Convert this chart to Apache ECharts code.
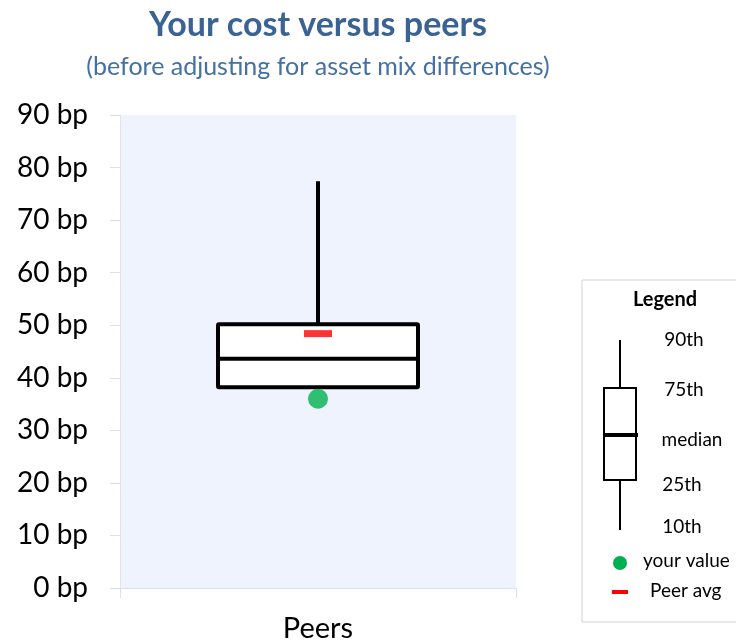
<!DOCTYPE html>
<html>
<head>
<meta charset="utf-8">
<script src="https://cdn.jsdelivr.net/npm/echarts@6/dist/echarts.min.js"></script>
<style>
  html, body { margin: 0; padding: 0; background: #fff; }
  #chart { width: 736px; height: 643px; }
</style>
</head>
<body>
<div id="chart"></div>
<script>
// data
const categories = ["Peers"];
// [10th, 25th, median, 75th, 90th]
const boxValues = [[38.2, 38.2, 43.6, 50.2, 77.4]];
const yourValue = [36.0];
const peerAvg = [48.4];
const yTicks = [0, 10, 20, 30, 40, 50, 60, 70, 80, 90];

const font = "Lato";
const blue = "#3a6393";
const lf = "19px " + font;

const chart = echarts.init(document.getElementById("chart"));

// legend box on the right (drawing only, not data)
const legendGraphics = [
  { type: "rect", shape: { x: 582, y: 280, width: 160, height: 342 },
    style: { fill: "#fff", stroke: "#d3d3d3", lineWidth: 1 } },
  { type: "text", x: 665, y: 300, style: { text: "Legend", font: "bold 20px " + font, fill: "#000", textAlign: "center", textVerticalAlign: "middle" } },
  { type: "line", shape: { x1: 620, y1: 340, x2: 620, y2: 388 }, style: { stroke: "#000", lineWidth: 2 } },
  { type: "line", shape: { x1: 620, y1: 480, x2: 620, y2: 530 }, style: { stroke: "#000", lineWidth: 2 } },
  { type: "rect", shape: { x: 604, y: 388, width: 32, height: 92 }, style: { fill: "#fff", stroke: "#000", lineWidth: 2 } },
  { type: "line", shape: { x1: 603, y1: 435, x2: 638, y2: 435 }, style: { stroke: "#000", lineWidth: 4 } },
  { type: "text", x: 684, y: 340, style: { text: "90th", font: lf, fill: "#000", textAlign: "center", textVerticalAlign: "middle" } },
  { type: "text", x: 684, y: 390, style: { text: "75th", font: lf, fill: "#000", textAlign: "center", textVerticalAlign: "middle" } },
  { type: "text", x: 692, y: 440, style: { text: "median", font: lf, fill: "#000", textAlign: "center", textVerticalAlign: "middle" } },
  { type: "text", x: 682, y: 485, style: { text: "25th", font: lf, fill: "#000", textAlign: "center", textVerticalAlign: "middle" } },
  { type: "text", x: 682, y: 527, style: { text: "10th", font: lf, fill: "#000", textAlign: "center", textVerticalAlign: "middle" } },
  { type: "circle", shape: { cx: 620, cy: 563, r: 7 }, style: { fill: "#00b050" } },
  { type: "text", x: 643, y: 561, style: { text: "your value", font: lf, fill: "#000", textVerticalAlign: "middle" } },
  { type: "rect", shape: { x: 612, y: 590, width: 16, height: 4 }, style: { fill: "#ff0000" } },
  { type: "text", x: 650, y: 591, style: { text: "Peer avg", font: lf, fill: "#000", textVerticalAlign: "middle" } }
];

const option = {
  animation: false,
  backgroundColor: "#fff",
  title: [
    { text: "Your cost versus peers", left: 313, top: 3, textAlign: "center",
      textStyle: { fontFamily: font, fontWeight: "bold", fontSize: 34, color: blue } },
    { text: "(before adjusting for asset mix differences)", left: 313, top: 49, textAlign: "center",
      textStyle: { fontFamily: font, fontWeight: "normal", fontSize: 25, color: "#4470a3" } }
  ],
  grid: { left: 120, right: 220, top: 115, bottom: 55, show: true, backgroundColor: "#eef3fd", borderWidth: 0 },
  xAxis: {
    type: "category",
    data: categories,
    axisLine: { show: true, lineStyle: { color: "#d9e1ec", width: 1 } },
    axisTick: { show: true, length: 10, lineStyle: { color: "#d9e1ec" } },
    axisLabel: { fontFamily: font, fontSize: 29, color: "#000", margin: 26 }
  },
  yAxis: {
    type: "value",
    min: 0,
    max: 90,
    interval: 10,
    axisLine: { show: true, lineStyle: { color: "#dde4ef", width: 1 } },
    axisTick: { show: true, length: 10, lineStyle: { color: "#d9e1ec" } },
    splitLine: { show: false },
    axisLabel: {
      fontFamily: font, fontSize: 28, color: "#000", margin: 32,
      formatter: function (v) { return yTicks.indexOf(v) >= 0 ? v + " bp" : ""; }
    }
  },
  series: [
    {
      type: "custom",
      data: boxValues.map(function (d, i) { return [i].concat(d); }),
      renderItem: function (params, api) {
        const x = api.value(0);
        const pLow = api.coord([x, api.value(1)]);
        const pQ1 = api.coord([x, api.value(2)]);
        const pMed = api.coord([x, api.value(3)]);
        const pQ3 = api.coord([x, api.value(4)]);
        const pHigh = api.coord([x, api.value(5)]);
        const w = api.size([1, 0])[0] * 0.505;
        const cx = pMed[0];
        const st = { stroke: "#000", lineWidth: 4, fill: null };
        return {
          type: "group",
          children: [
            { type: "line", shape: { x1: cx, y1: pQ3[1], x2: cx, y2: pHigh[1] }, style: st },
            { type: "line", shape: { x1: cx, y1: pQ1[1], x2: cx, y2: pLow[1] }, style: st },
            { type: "rect", shape: { x: cx - w / 2, y: pQ3[1], width: w, height: pQ1[1] - pQ3[1], r: 1 },
              style: { fill: "#fff", stroke: "#000", lineWidth: 4 } },
            { type: "line", shape: { x1: cx - w / 2, y1: pMed[1], x2: cx + w / 2, y2: pMed[1] }, style: st }
          ]
        };
      },
      z: 2
    },
    {
      type: "scatter",
      data: peerAvg,
      symbol: "rect",
      symbolSize: [28, 7],
      itemStyle: { color: "#ff0000" },
      z: 3
    },
    {
      type: "scatter",
      data: yourValue,
      symbol: "circle",
      symbolSize: 20,
      itemStyle: { color: "#00b050" },
      z: 3
    }
  ],
  graphic: legendGraphics
};

chart.setOption(option);
</script>
</body>
</html>
